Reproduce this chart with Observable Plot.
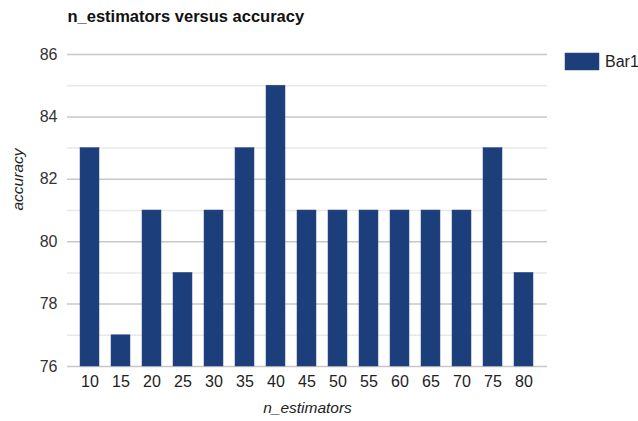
<!DOCTYPE html>
<html><head><meta charset="utf-8">
<script src="https://cdn.jsdelivr.net/npm/d3@7"></script>
<script src="https://cdn.jsdelivr.net/npm/@observablehq/plot@0.6"></script>
<style>body{margin:0;background:#fff;font-family:"Liberation Sans",Arial,sans-serif}</style>
</head><body><div id="chart"></div>
<script>
const nEstimators = [10,15,20,25,30,35,40,45,50,55,60,65,70,75,80];
const accuracy = [83,77,81,79,81,83,85,81,81,81,81,81,81,83,79];
const majorTicks = [76,78,80,82,84,86];
const minorTicks = [77,79,81,83,85];
const seriesName = "Bar1";
const title = "n_estimators versus accuracy";
const xLabel = "n_estimators";
const yLabel = "accuracy";
const barColor = "#1c3f7c";

const data = nEstimators.map((n,i)=>({n, acc: accuracy[i]}));

const chart = Plot.plot({
  width: 638, height: 421,
  marginLeft: 67, marginRight: 91, marginTop: 54, marginBottom: 55,
  style: {fontFamily: "'Liberation Sans',Arial,sans-serif", background: "#fff"},
  x: {type: "band", domain: nEstimators, padding: 0.375, label: null},
  y: {domain: [76, 86], label: null},
  marks: [
    Plot.ruleY(minorTicks, {stroke: "#e8e8e8", strokeWidth: 1.5}),
    Plot.ruleY(majorTicks, {stroke: "#c8c8c8", strokeWidth: 1.5}),
    Plot.barY(data, {x: "n", y1: 76, y2: "acc", fill: barColor, stroke: "#2a4a86", strokeWidth: 0.5}),
    Plot.axisX({tickSize: 0, tickPadding: 9, fontSize: 16, fill: "#222", label: null}),
    Plot.axisY({ticks: majorTicks, tickSize: 0, tickPadding: 10, fontSize: 16, fill: "#333", label: null}),
    Plot.text([title], {frameAnchor: "top-left", text: d=>d, dx: 0, dy: -44, fontSize: 16.5, fontWeight: "bold", fill: "#111", textAnchor: "start"}),
    Plot.text([xLabel], {frameAnchor: "bottom", text: d=>d, dy: 46, fontSize: 15.5, fontStyle: "italic", fill: "#222"}),
    Plot.text([yLabel], {frameAnchor: "left", text: d=>d, dx: -49, rotate: -90, fontSize: 15.5, fontStyle: "italic", fill: "#222"})
  ]
});
const svg = d3.select(chart);
const lg = svg.append("g").attr("class","legend").attr("text-anchor","start");
lg.append("rect").attr("x",565).attr("y",53).attr("width",34).attr("height",17).attr("fill",barColor).attr("stroke","#2a4a86").attr("stroke-width",0.5);
lg.append("text").attr("x",605).attr("y",67).attr("font-size",16).attr("text-anchor","start").attr("fill","#222").text(seriesName);
document.getElementById("chart").appendChild(chart);
</script></body></html>
